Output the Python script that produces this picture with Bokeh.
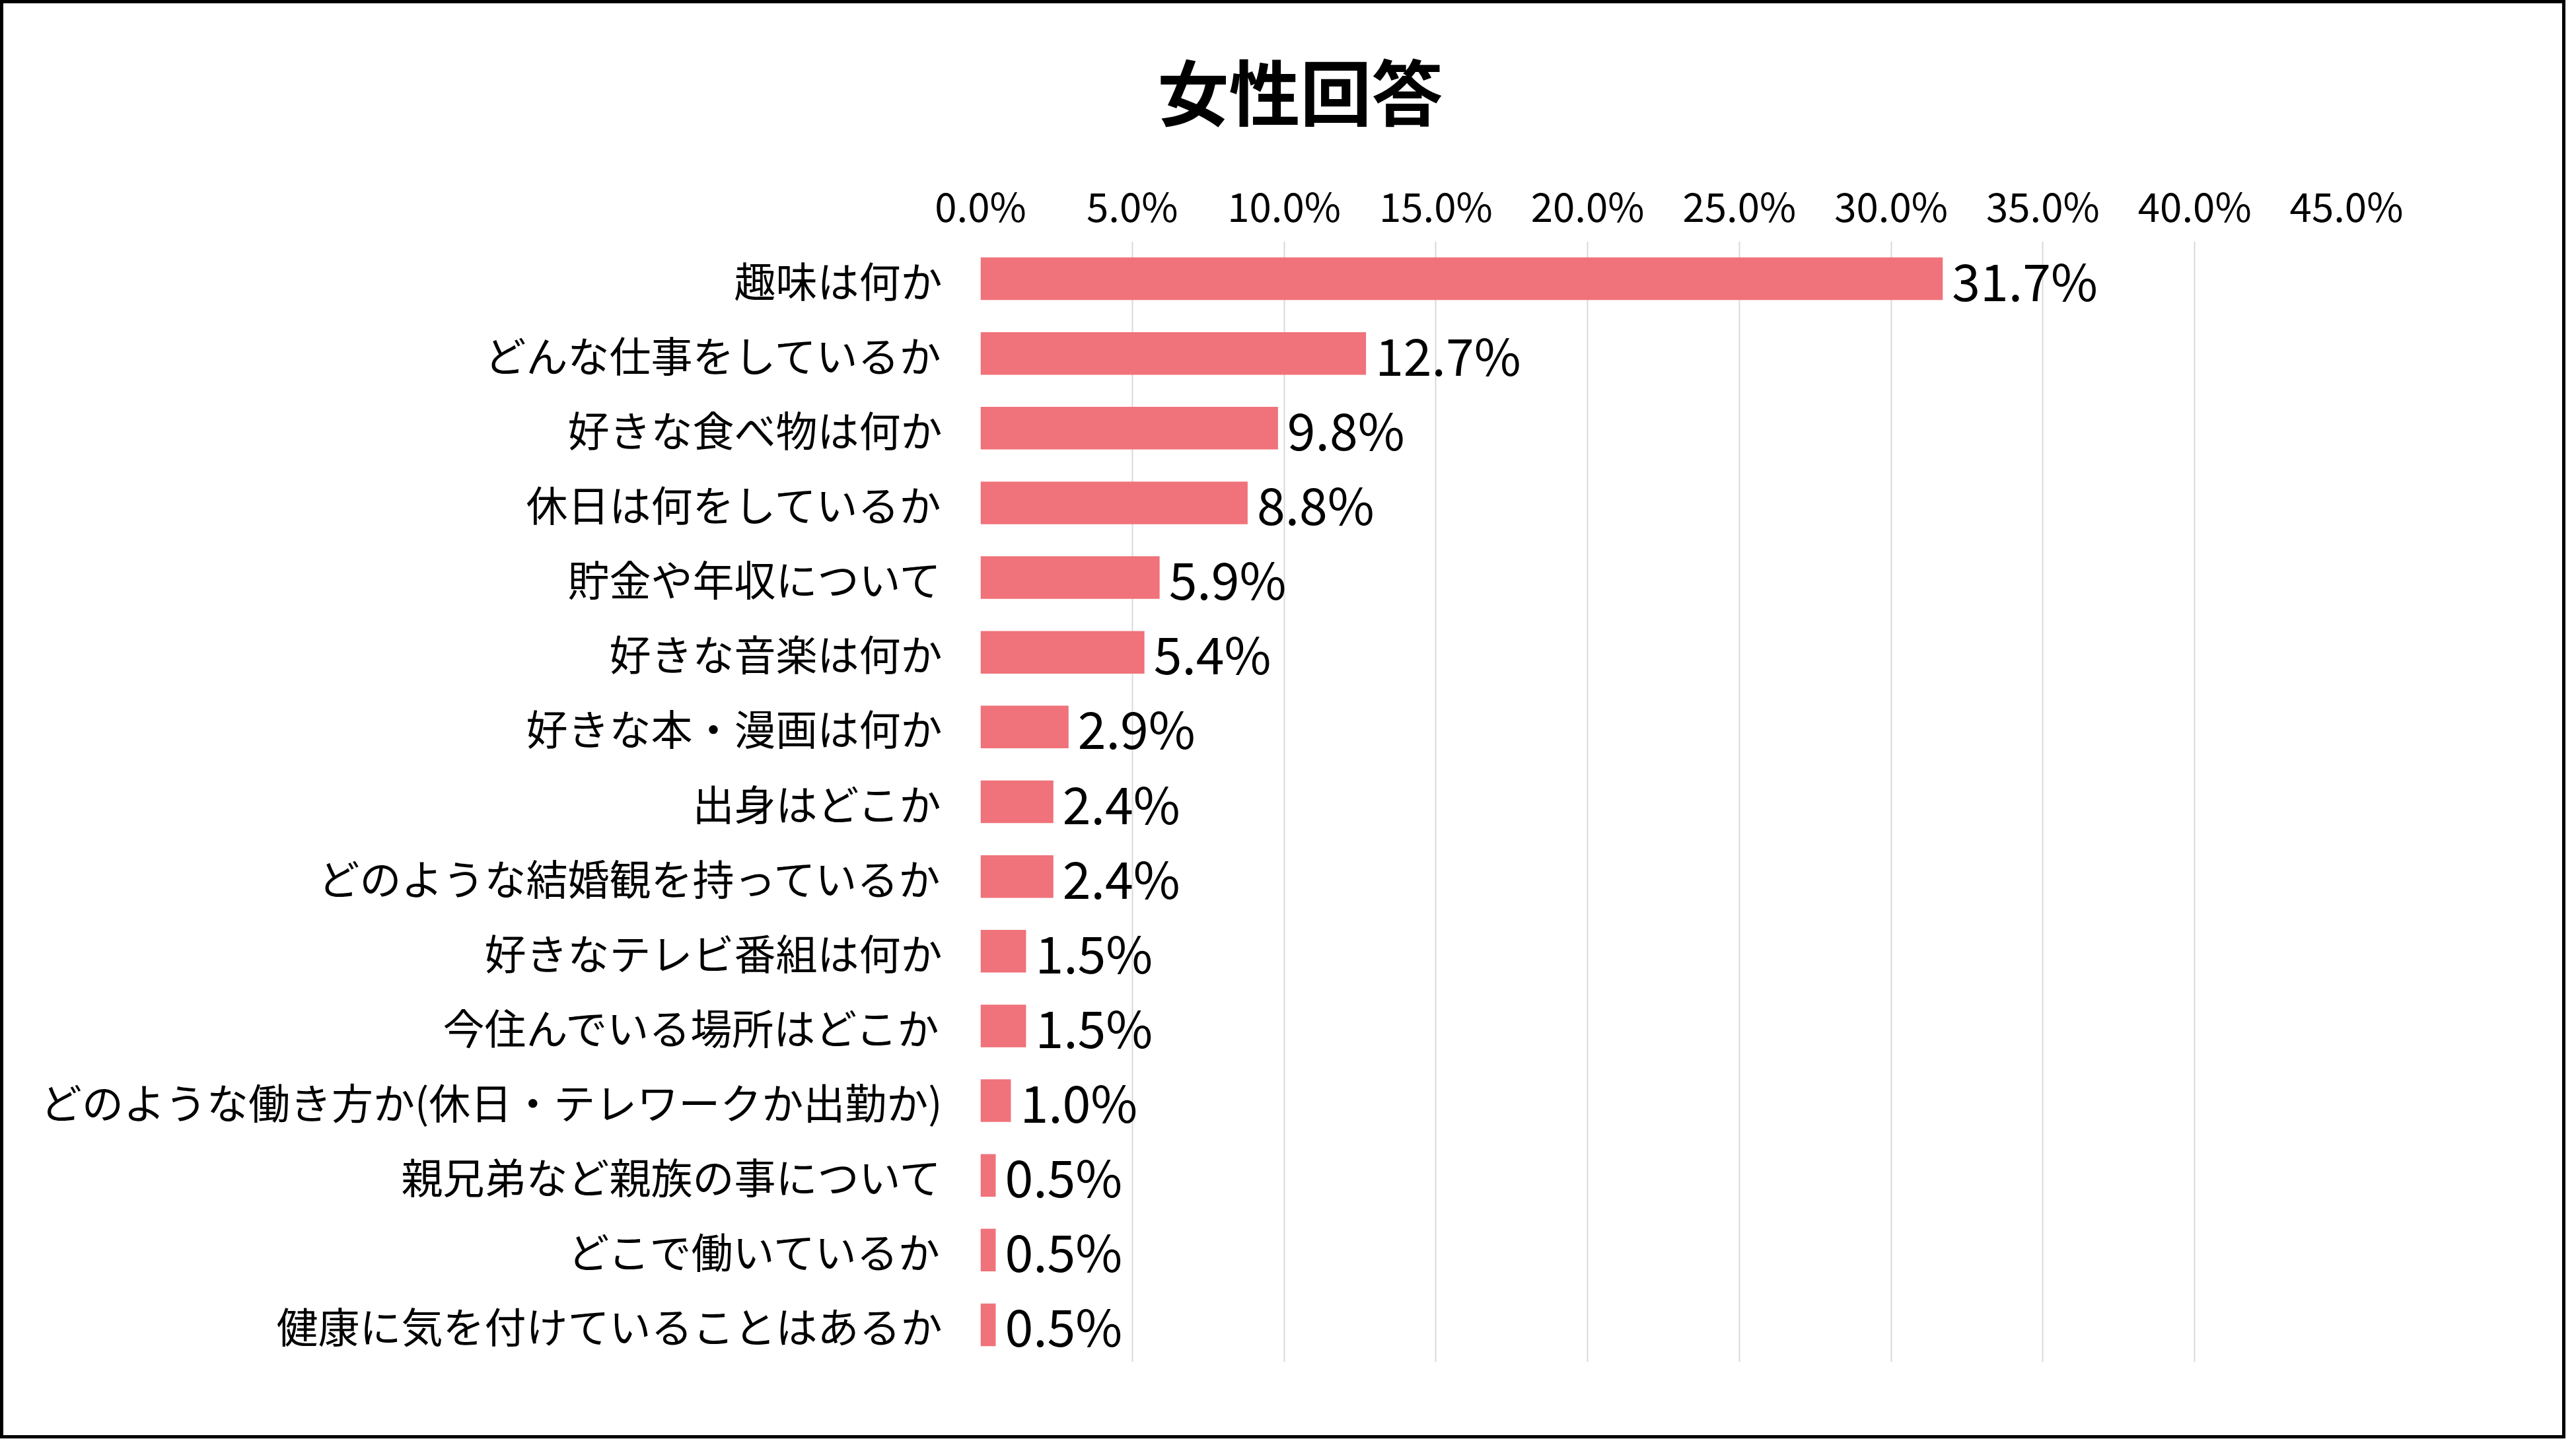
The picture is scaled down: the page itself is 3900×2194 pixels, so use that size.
from bokeh.plotting import figure
from bokeh.models import Range1d, FactorRange, FixedTicker, PrintfTickFormatter, ColumnDataSource
from bokeh.core.properties import value
from bokeh.embed import file_html
from bokeh.resources import INLINE

categories = [
    "趣味は何か",
    "どんな仕事をしているか",
    "好きな食べ物は何か",
    "休日は何をしているか",
    "貯金や年収について",
    "好きな音楽は何か",
    "好きな本・漫画は何か",
    "出身はどこか",
    "どのような結婚観を持っているか",
    "好きなテレビ番組は何か",
    "今住んでいる場所はどこか",
    "どのような働き方か(休日・テレワークか出勤か)",
    "親兄弟など親族の事について",
    "どこで働いているか",
    "健康に気を付けていることはあるか",
]
values = [31.7, 12.7, 9.8, 8.8, 5.9, 5.4, 2.9, 2.4, 2.4, 1.5, 1.5, 1.0, 0.5, 0.5, 0.5]
tick_values = [0, 5, 10, 15, 20, 25, 30, 35, 40, 45]
title_text = "女性回答"

FONT = "Noto Sans CJK JP"
BAR_COLOR = "#F0727A"

labels = [f"{v:.1f}%" for v in values]
src = ColumnDataSource(dict(cat=categories, val=values, lab=labels))

p = figure(
    width=3884, height=2178,
    x_range=Range1d(0, 45),
    y_range=FactorRange(factors=list(reversed(categories))),
    x_axis_location="above",
    output_backend="svg",
    toolbar_location=None,
    min_border_left=1479, min_border_right=337,
    min_border_top=360, min_border_bottom=121,
)
p.styles = {"border": "5px solid black", "box-sizing": "border-box"}

p.hbar(y="cat", right="val", left=0, height=0.57, source=src,
       fill_color=BAR_COLOR, line_color=None)
p.text(x="val", y="cat", text="lab", source=src, x_offset=14,
       text_baseline="middle", text_align="left",
       text_font=value(FONT), text_font_size="77px", text_color="black")

p.title.text = title_text
p.title.text_font = FONT
p.title.text_font_size = "108px"
p.title.text_font_style = "bold"
p.title.text_color = "black"
p.title.align = "left"
p.title.offset = 268
p.title.standoff = 99

xa = p.xaxis[0]
xa.ticker = FixedTicker(ticks=tick_values)
xa.formatter = PrintfTickFormatter(format="%.1f%%")
xa.axis_line_color = None
xa.major_tick_line_color = None
xa.minor_tick_line_color = None
xa.major_label_text_font = FONT
xa.major_label_text_font_size = "60px"
xa.major_label_text_color = "black"
xa.major_label_standoff = 7

ya = p.yaxis[0]
ya.axis_line_color = None
ya.major_tick_line_color = None
ya.minor_tick_line_color = None
ya.major_label_text_font = FONT
ya.major_label_text_font_size = "63px"
ya.major_label_text_color = "black"
ya.major_label_standoff = 52

p.xgrid.grid_line_color = "#D9D9D9"
p.xgrid.grid_line_width = 2
p.ygrid.grid_line_color = None
p.outline_line_color = None
p.background_fill_color = "white"
p.border_fill_color = "white"

open("out.html", "w").write(file_html(p, INLINE))
